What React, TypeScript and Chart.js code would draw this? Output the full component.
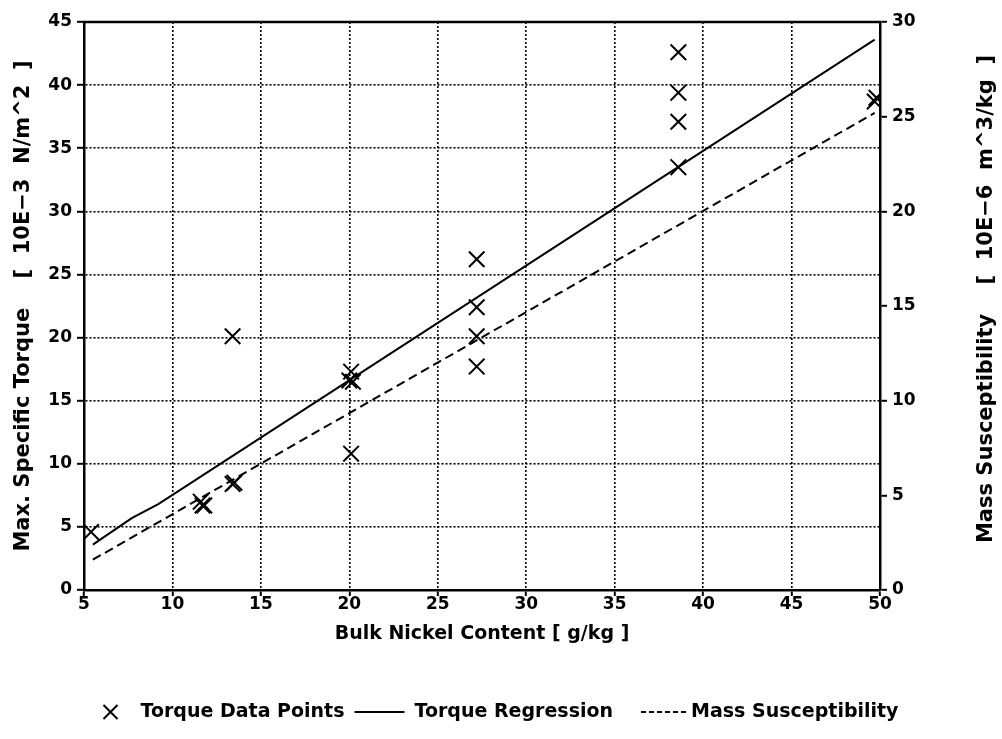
import React, { useEffect, useRef } from "react";
import { Chart, registerables } from "chart.js";

Chart.register(...registerables);

// Bulk nickel content [g/kg] for each torque measurement
const nickelContent = [5.4, 11.6, 11.7, 11.8, 13.4, 13.5, 13.4, 20.1, 20.0, 20.2, 20.1, 27.2, 27.2, 27.2, 27.2, 38.6, 38.6, 38.6, 38.6, 49.7, 49.8];
// Maximum specific torque [10E-3 N/m^2]
const torqueValues = [4.6, 7.0, 6.7, 6.7, 8.4, 8.5, 20.1, 17.3, 16.6, 16.5, 10.8, 26.2, 22.4, 20.1, 17.7, 42.6, 39.4, 37.1, 33.5, 38.7, 39.0];

// Torque regression line vertices
const regressionX = [5.5, 7.7, 9.2, 49.7];
const regressionY = [3.6, 5.7, 6.8, 43.6];

// Mass susceptibility [10E-6 m^3/kg] (right axis)
const susceptibilityX = [5.5, 49.7];
const susceptibilityY = [1.6, 25.2];

const xTicks = [5, 10, 15, 20, 25, 30, 35, 40, 45, 50];
const torqueTicks = [0, 5, 10, 15, 20, 25, 30, 35, 40, 45];
const susceptibilityTicks = [0, 5, 10, 15, 20, 25, 30];

const xTitle = "Bulk Nickel Content [ g/kg ]";
const leftTitle = "Max. Specific Torque    [  10E\u22123  N/m^2  ]";
const rightTitle = "Mass Susceptibility    [  10E\u22126  m^3/kg  ]";
const seriesLabels = ["Torque Data Points", "Torque Regression", "Mass Susceptibility"];

const FONT = "'DejaVu Sans', sans-serif";
const INK = "#000";

const toPoints = (xs: number[], ys: number[]) => xs.map((x, i) => ({ x, y: ys[i] }));

// Draws the top frame line, the right axis title (reading upward) and the legend row.
const decorPlugin = {
  id: "decor",
  afterDraw(chart: any) {
    const { ctx, chartArea: a } = chart;
    ctx.save();
    ctx.strokeStyle = INK;
    ctx.fillStyle = INK;
    ctx.lineWidth = 2.5;
    ctx.beginPath();
    ctx.moveTo(a.left - 1, a.top);
    ctx.lineTo(a.right + 1, a.top);
    ctx.stroke();

    // right axis title
    ctx.save();
    ctx.font = `bold 21px ${FONT}`;
    ctx.textAlign = "center";
    ctx.textBaseline = "middle";
    ctx.translate(987, 299);
    ctx.rotate(-Math.PI / 2);
    ctx.fillText(rightTitle, 0, 0);
    ctx.restore();

    // legend
    ctx.font = `bold 19px ${FONT}`;
    ctx.textBaseline = "middle";
    ctx.textAlign = "left";
    const ly = 712;
    const items = chart.data.datasets.map((ds: any) => {
      const kind = ds.type === "scatter" ? "cross" : ds.borderDash && ds.borderDash.length ? "dash" : "solid";
      const mw = kind === "cross" ? 14 : kind === "solid" ? 50 : 45;
      return { label: ds.label, kind, mw, tw: ctx.measureText(ds.label).width };
    });
    const gapMarker = [23, 10, 5];
    const gapItem = [10, 28];
    let total = 0;
    items.forEach((it: any, i: number) => {
      total += it.mw + gapMarker[i] + it.tw + (i < items.length - 1 ? gapItem[i] : 0);
    });
    let x = (chart.width - total) / 2;
    items.forEach((it: any, i: number) => {
      ctx.save();
      ctx.lineWidth = 2;
      ctx.beginPath();
      if (it.kind === "cross") {
        const h = it.mw / 2;
        const cx = x + it.mw / 2;
        ctx.moveTo(cx - h, ly - h);
        ctx.lineTo(cx + h, ly + h);
        ctx.moveTo(cx + h, ly - h);
        ctx.lineTo(cx - h, ly + h);
      } else {
        if (it.kind === "dash") ctx.setLineDash([5, 3]);
        ctx.moveTo(x, ly);
        ctx.lineTo(x + it.mw, ly);
      }
      ctx.stroke();
      ctx.restore();
      x += it.mw + gapMarker[i];
      ctx.fillText(it.label, x, ly);
      x += it.tw + (i < items.length - 1 ? gapItem[i] : 0);
    });
    ctx.restore();
  },
};

export default function App() {
  const canvasRef = useRef<HTMLCanvasElement | null>(null);

  useEffect(() => {
    const canvas = canvasRef.current;
    if (!canvas) return;

    const tickFont = { family: FONT, size: 17, weight: "bold" as const };
    const gridStyle = {
      color: INK,
      lineWidth: 1.6,
      drawTicks: true,
      tickLength: 7,
      tickColor: INK,
      tickWidth: 2,
      tickBorderDash: [],
    };

    const chart = new Chart(canvas, {
      type: "scatter",
      data: {
        datasets: [
          {
            type: "scatter",
            label: seriesLabels[0],
            data: toPoints(nickelContent, torqueValues),
            yAxisID: "y",
            pointStyle: "crossRot",
            pointRadius: 11,
            pointBorderWidth: 2,
            borderColor: INK,
            backgroundColor: INK,
            order: 0,
          },
          {
            type: "line",
            label: seriesLabels[1],
            data: toPoints(regressionX, regressionY),
            yAxisID: "y",
            borderColor: INK,
            borderWidth: 2,
            pointRadius: 0,
            fill: false,
            tension: 0,
            order: 1,
          },
          {
            type: "line",
            label: seriesLabels[2],
            data: toPoints(susceptibilityX, susceptibilityY),
            yAxisID: "y2",
            borderColor: INK,
            borderWidth: 2,
            borderDash: [9, 5],
            pointRadius: 0,
            fill: false,
            tension: 0,
            order: 2,
          },
        ],
      },
      options: {
        animation: false,
        responsive: true,
        maintainAspectRatio: false,
        layout: { padding: { top: 22, left: 0, right: 0, bottom: 0 } },
        plugins: {
          legend: { display: false },
          tooltip: { enabled: false },
        },
        scales: {
          x: {
            type: "linear",
            min: 5,
            max: 50,
            afterFit: (s: any) => {
              s.height = 149;
            },
            afterBuildTicks: (s: any) => {
              s.ticks = xTicks.map((v) => ({ value: v }));
            },
            ticks: { color: INK, font: tickFont, padding: -2 },
            grid: { ...gridStyle, tickLength: 6 },
            border: { display: true, color: INK, width: 2.5, dash: [2, 2] },
            title: {
              display: true,
              text: xTitle,
              color: INK,
              font: { family: FONT, size: 19, weight: "bold" },
              padding: { top: 0, bottom: 94 },
            },
          },
          y: {
            type: "linear",
            position: "left",
            min: 0,
            max: 45,
            afterFit: (s: any) => {
              s.width = 84;
            },
            afterBuildTicks: (s: any) => {
              s.ticks = torqueTicks.map((v) => ({ value: v }));
            },
            ticks: { color: INK, font: tickFont, padding: 5 },
            grid: gridStyle,
            border: { display: true, color: INK, width: 2.5, dash: [2, 2] },
            title: {
              display: true,
              text: leftTitle,
              color: INK,
              font: { family: FONT, size: 21, weight: "bold" },
              padding: { top: 11, bottom: 0 },
            },
          },
          y2: {
            type: "linear",
            position: "right",
            min: 0,
            max: 30,
            afterFit: (s: any) => {
              s.width = 122;
            },
            afterBuildTicks: (s: any) => {
              s.ticks = susceptibilityTicks.map((v) => ({ value: v }));
            },
            ticks: { color: INK, font: tickFont, padding: 5 },
            grid: { ...gridStyle, drawOnChartArea: false },
            border: { display: true, color: INK, width: 2.5 },
          },
        },
      },
      plugins: [decorPlugin],
    });

    return () => chart.destroy();
  }, []);

  return (
    <div style={{ position: "fixed", left: 0, top: 0, width: 1002, height: 739, background: "#fff" }}>
      <canvas ref={canvasRef} />
    </div>
  );
}
